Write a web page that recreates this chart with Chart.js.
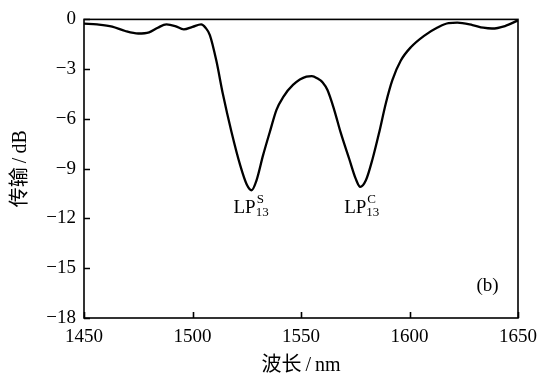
<!DOCTYPE html>
<html>
<head>
<meta charset="utf-8">
<script src="https://cdn.jsdelivr.net/npm/chart.js@4.4.1/dist/chart.umd.min.js"></script>
<style>
  html, body { margin: 0; padding: 0; background: #fff; }
  #wrap { width: 551px; height: 380px; position: relative; }
</style>
</head>
<body>
<div id="wrap"><canvas id="chart"></canvas></div>
<script>
// transmission spectrum
const wavelength = [1450, 1456, 1463, 1469, 1475, 1480, 1484, 1488, 1492, 1496, 1500, 1504,
  1506, 1508, 1511, 1514, 1518, 1522, 1525, 1527.2, 1529.5, 1532.5, 1535.6, 1538.7, 1541.7,
  1546.3, 1552.5, 1555, 1557.5, 1560, 1562.2, 1565.3, 1568.3, 1572.2, 1575.2, 1577.3, 1579.9,
  1583, 1586, 1589.1, 1592.1, 1596, 1600.6, 1606.7, 1612.9, 1618, 1622, 1629, 1634, 1638,
  1644, 1650];
const transmission = [-0.25, -0.3, -0.43, -0.7, -0.85, -0.78, -0.5, -0.3, -0.4, -0.6, -0.45, -0.3,
  -0.5, -0.95, -2.5, -4.5, -6.8, -8.8, -9.95, -10.3, -9.7, -8.2, -6.8, -5.45, -4.7,
  -3.95, -3.45, -3.42, -3.55, -3.8, -4.26, -5.45, -6.83, -8.4, -9.6, -10.1, -9.7,
  -8.4, -6.83, -5.05, -3.66, -2.48, -1.68, -0.99, -0.49, -0.22, -0.2, -0.34, -0.5, -0.55,
  -0.4, -0.06];

const xTicks = [1450, 1500, 1550, 1600, 1650];
const yTicks = [0, -3, -6, -9, -12, -15, -18];

// mode labels: [main, superscript, subscript, x, y]
const modeLabels = [
  ['LP', 'S', '13', 1527, -11.7],
  ['LP', 'C', '13', 1578, -11.7]
];
const panelLabel = ['(b)', 1636, -16.05];

const serif = '"Liberation Serif", "Times New Roman", "Noto Sans CJK SC", serif';

const frame = {
  id: 'frame',
  afterDatasetsDraw(chart) {
    const { ctx, chartArea: a, scales: { x, y } } = chart;
    ctx.save();
    ctx.strokeStyle = '#000';
    ctx.lineWidth = 1.6;
    ctx.strokeRect(a.left, a.top, a.right - a.left, a.bottom - a.top);
    ctx.beginPath();
    xTicks.forEach(v => {
      const px = Math.round(x.getPixelForValue(v)) + 0.5;
      ctx.moveTo(px, a.bottom);
      ctx.lineTo(px, a.bottom - 6);
    });
    yTicks.forEach(v => {
      const py = Math.round(y.getPixelForValue(v)) + 0.5;
      ctx.moveTo(a.left, py);
      ctx.lineTo(a.left + 6, py);
    });
    ctx.stroke();

    ctx.fillStyle = '#000';
    ctx.textBaseline = 'alphabetic';
    modeLabels.forEach(([main, sup, sub, lx, ly]) => {
      ctx.font = '19px ' + serif;
      const w1 = ctx.measureText(main).width;
      ctx.font = '13px ' + serif;
      const w2 = Math.max(ctx.measureText(sup).width, ctx.measureText(sub).width);
      const cx = x.getPixelForValue(lx);
      const by = y.getPixelForValue(ly);
      const left = cx - (w1 + w2) / 2;
      ctx.font = '19px ' + serif;
      ctx.textAlign = 'left';
      ctx.fillText(main, left, by);
      ctx.font = '13px ' + serif;
      ctx.fillText(sup, left + w1 + 1, by - 10);
      ctx.fillText(sub, left + w1, by + 3);
    });
    ctx.font = '19px ' + serif;
    ctx.textAlign = 'center';
    ctx.textBaseline = 'middle';
    ctx.fillText(panelLabel[0], x.getPixelForValue(panelLabel[1]), y.getPixelForValue(panelLabel[2]));
    ctx.restore();
  }
};

new Chart(document.getElementById('chart'), {
  type: 'line',
  data: {
    datasets: [{
      data: wavelength.map((w, i) => ({ x: w, y: transmission[i] })),
      borderColor: '#000',
      borderWidth: 2.3,
      pointRadius: 0,
      tension: 0.4,
      cubicInterpolationMode: 'monotone',
      fill: false
    }]
  },
  options: {
    responsive: true,
    maintainAspectRatio: false,
    animation: false,
    devicePixelRatio: 1,
    layout: { padding: { left: 0, top: 15, right: 33, bottom: 0 } },
    plugins: { legend: { display: false }, tooltip: { enabled: false } },
    scales: {
      x: {
        type: 'linear',
        min: 1450,
        max: 1650,
        afterFit: s => { s.height = 62; },
        afterBuildTicks: s => { s.ticks = xTicks.map(v => ({ value: v })); },
        grid: { display: false, drawTicks: false },
        border: { display: false },
        ticks: {
          color: '#000', padding: 8, maxRotation: 0, font: { family: serif, size: 19 },
          callback: v => String(v)
        },
        title: { display: true, text: '波长\u2009/\u2009nm', color: '#000', padding: { top: 0, bottom: 2 }, font: { family: serif, size: 20 } }
      },
      y: {
        min: -18,
        max: 0,
        afterFit: s => { s.width = 84; },
        afterBuildTicks: s => { s.ticks = yTicks.map(v => ({ value: v })); },
        grid: { display: false, drawTicks: false },
        border: { display: false },
        ticks: {
          color: '#000', padding: 8, font: { family: serif, size: 19 },
          callback: v => String(v).replace('-', '\u2212')
        },
        title: { display: true, text: '传输\u2009/\u2009dB', color: '#000', padding: { top: 9, bottom: 0 }, font: { family: serif, size: 20 } }
      }
    }
  },
  plugins: [frame]
});
</script>
</body>
</html>
